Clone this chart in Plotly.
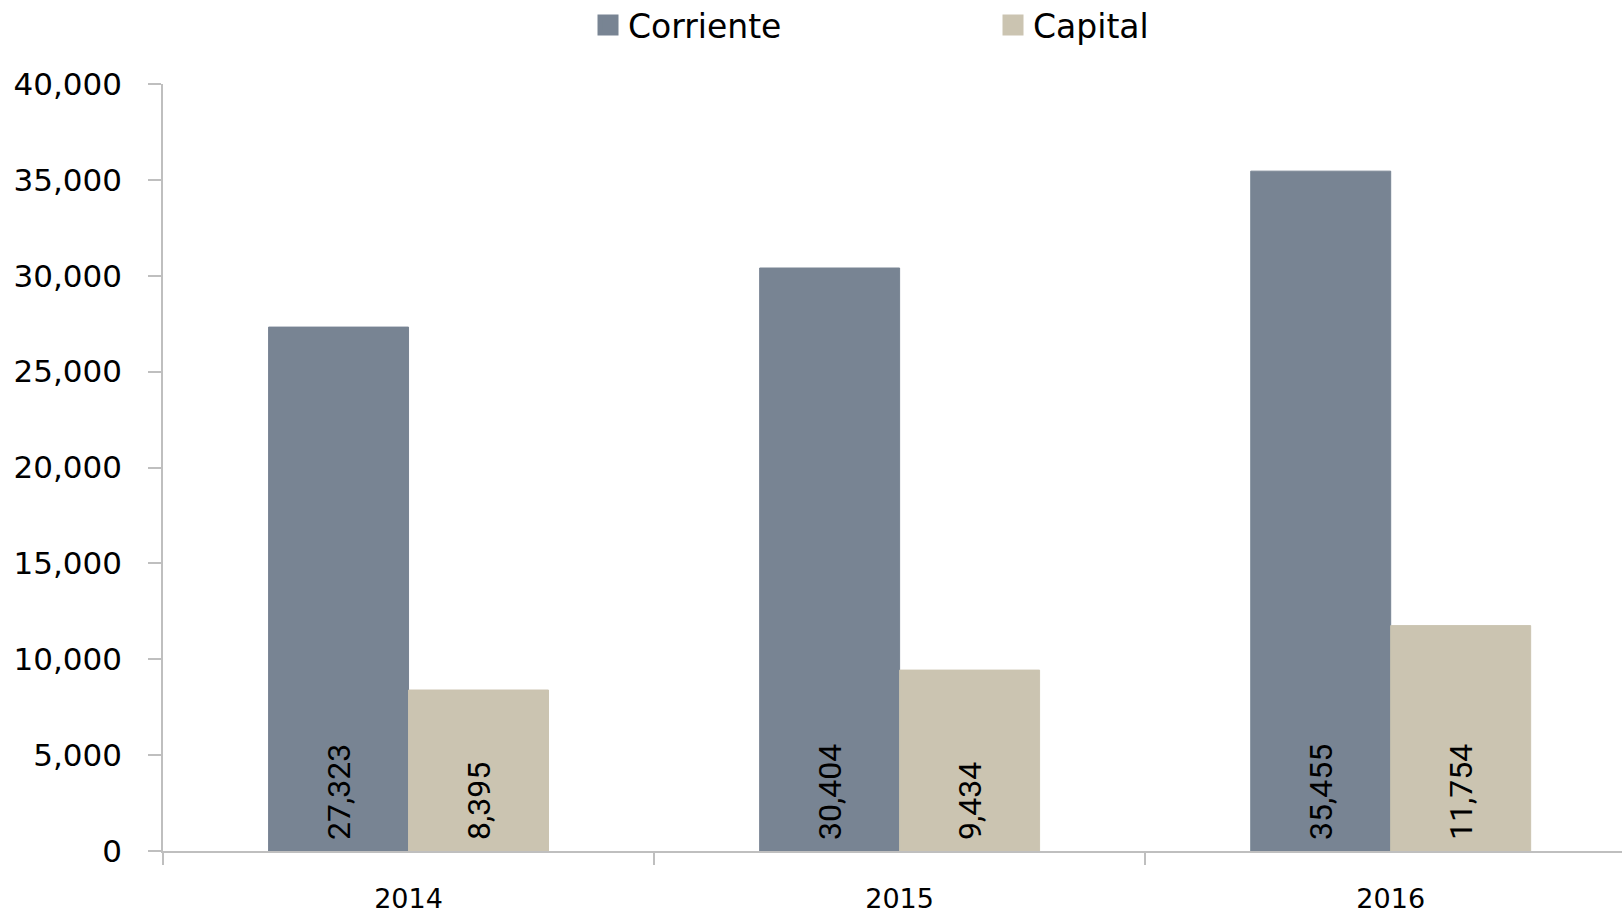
import plotly.graph_objects as go

years = ["2014", "2015", "2016"]
corriente = [27323, 30404, 35455]
capital = [8395, 9434, 11754]
series_names = ["Corriente", "Capital"]
colors = ["#788493", "#CBC4B1"]
y_ticks = [0, 5000, 10000, 15000, 20000, 25000, 30000, 35000, 40000]

fig = go.Figure()
for name, vals, col in zip(series_names, [corriente, capital], colors):
    fig.add_trace(go.Bar(
        x=years, y=vals, name=name, showlegend=False,
        marker=dict(color=col, line=dict(color=col, width=1)),
        texttemplate="\u00a0%{y:,}", textposition="inside",
        insidetextanchor="start", textangle=-90, constraintext="none",
        insidetextfont=dict(family="Roboto", size=32, color="black"),
        hoverinfo="skip",
    ))
    fig.add_trace(go.Scatter(
        x=[None], y=[None], mode="markers", name=name,
        marker=dict(symbol="square", size=16, color=col, line=dict(color=col, width=5)),
        showlegend=True,
    ))

fig.update_layout(
    width=1622, height=915,
    margin=dict(l=163, r=0, t=84, b=64, autoexpand=False),
    paper_bgcolor="white", plot_bgcolor="white",
    barmode="group", bargap=0.43, bargroupgap=0,
    font=dict(family="DejaVu Sans", size=31, color="black"),
    legend=dict(orientation="h", x=0.2913, xanchor="left", y=1.077, yanchor="middle",
                font=dict(family="DejaVu Sans", size=33, color="black"),
                entrywidth=360, bgcolor="rgba(0,0,0,0)"),
    xaxis=dict(range=[-0.5, 2.471], showline=True, linecolor="#BFBFBF", linewidth=1.5,
               ticks="outside", tickson="boundaries", ticklen=12, tickcolor="#BFBFBF",
               tickwidth=1.5, showgrid=False, zeroline=False,
               tickfont=dict(family="DejaVu Sans", size=27), ticklabelstandoff=23),
    yaxis=dict(range=[0, 40000], tickvals=y_ticks, tickformat=",", showline=True,
               linecolor="#BFBFBF", linewidth=1.5, ticks="outside", ticklen=13,
               tickcolor="#BFBFBF", tickwidth=1.5, showgrid=False, zeroline=False,
               tickfont=dict(family="DejaVu Sans", size=31), ticklabelstandoff=20),
)

fig.write_html("out.html", config={"displayModeBar": False},
               post_script="document.body.style.margin='0';document.body.style.overflow='hidden';")
